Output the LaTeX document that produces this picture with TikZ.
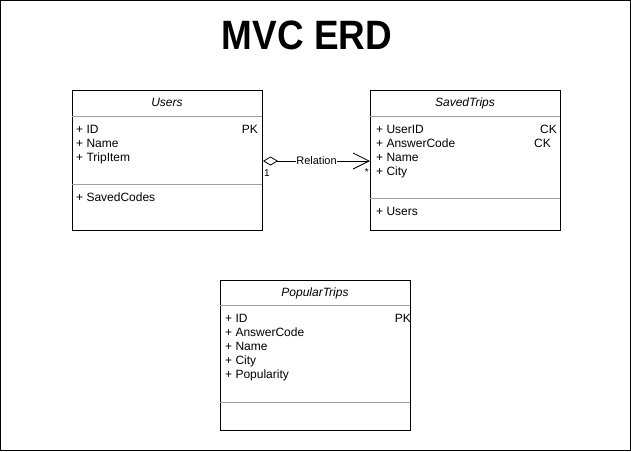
\documentclass[tikz,border=0pt]{standalone}
\usepackage{fontspec}
\setmainfont{Liberation Sans}
\usetikzlibrary{arrows.meta}
\tikzset{
  entity/.style={draw, line width=1pt, minimum width=190pt, inner sep=0pt, anchor=north west},
  attr/.style={anchor=west, inner sep=0pt, font=\fontsize{12}{12}\selectfont, text height=10pt, text depth=2pt},
  key/.style={attr, anchor=east},
  title/.style={attr, anchor=center, font=\fontsize{12}{12}\selectfont\itshape},
  sep/.style={gray!75, line width=0.8pt}
}
\begin{document}
\begin{tikzpicture}[x=1pt,y=-1pt]
    \useasboundingbox (0,0) rectangle (631,451);
    \draw[line width=1pt] (0.5,0.5) rectangle (630.5,450.5);
    \node[anchor=base, font=\fontsize{41}{41}\selectfont\bfseries] (head) at (307,49) {\scalebox{0.9}[1]{MVC ERD}};
    % entities
    \node[entity, minimum height=140pt] (users) at (72,90) {};
    \node[entity, minimum height=140pt] (saved) at (370,90) {};
    \node[entity, minimum height=150pt] (popular) at (220,280) {};
    \draw[sep] (72,116)--(262,116); \draw[sep] (72,184)--(262,184);
    \draw[sep] (370,116)--(560,116); \draw[sep] (370,198)--(560,198);
    \draw[sep] (220,305)--(410,305); \draw[sep] (220,402)--(410,402);
    \node[title] (usersT) at (167,102) {Users};
    \node[title] (savedT) at (465,102) {SavedTrips};
    \node[title] (popularT) at (315,292) {PopularTrips};
    \node[attr] (u1) at (76,129) {+ ID}; \node[key] (u1k) at (258,129) {PK};
    \node[attr] (u2) at (76,143) {+ Name};
    \node[attr] (u3) at (76,157) {+ TripItem};
    \node[attr] (u4) at (76,197) {+ SavedCodes};
    \node[attr] (s1) at (376,129) {+ UserID}; \node[key] (s1k) at (557,129) {CK};
    \node[attr] (s2) at (376,143) {+ AnswerCode}; \node[key] (s2k) at (551,143) {CK};
    \node[attr] (s3) at (376,157) {+ Name};
    \node[attr] (s4) at (376,171) {+ City};
    \node[attr] (s5) at (376,211) {+ Users};
    \node[attr] (p1) at (225,318) {+ ID}; \node[key] (p1k) at (411,318) {PK};
    \node[attr] (p2) at (225,332) {+ AnswerCode};
    \node[attr] (p3) at (225,346) {+ Name};
    \node[attr] (p4) at (225,360) {+ City};
    \node[attr] (p5) at (225,374) {+ Popularity};
    % relation
    \coordinate (uR) at (users.east |- 0,161); \coordinate (sL) at (saved.west |- 0,161);
    \draw[line width=0.8pt, {Diamond[open,length=15pt,width=9pt,line width=0.8pt]}-{Straight Barb[length=16pt,width=16pt,line width=0.8pt]}] (uR) -- (sL)
      node[midway, fill=white, inner sep=0.5pt, font=\fontsize{11}{11}\selectfont] (rel) {Relation};
    \node[anchor=north west, inner sep=0pt, font=\fontsize{10}{10}\selectfont] (one) at (264,169) {1};
    \node[anchor=north east, inner sep=0pt, font=\fontsize{10}{10}\selectfont] (many) at (369,168) {*};
\end{tikzpicture}
\end{document}
